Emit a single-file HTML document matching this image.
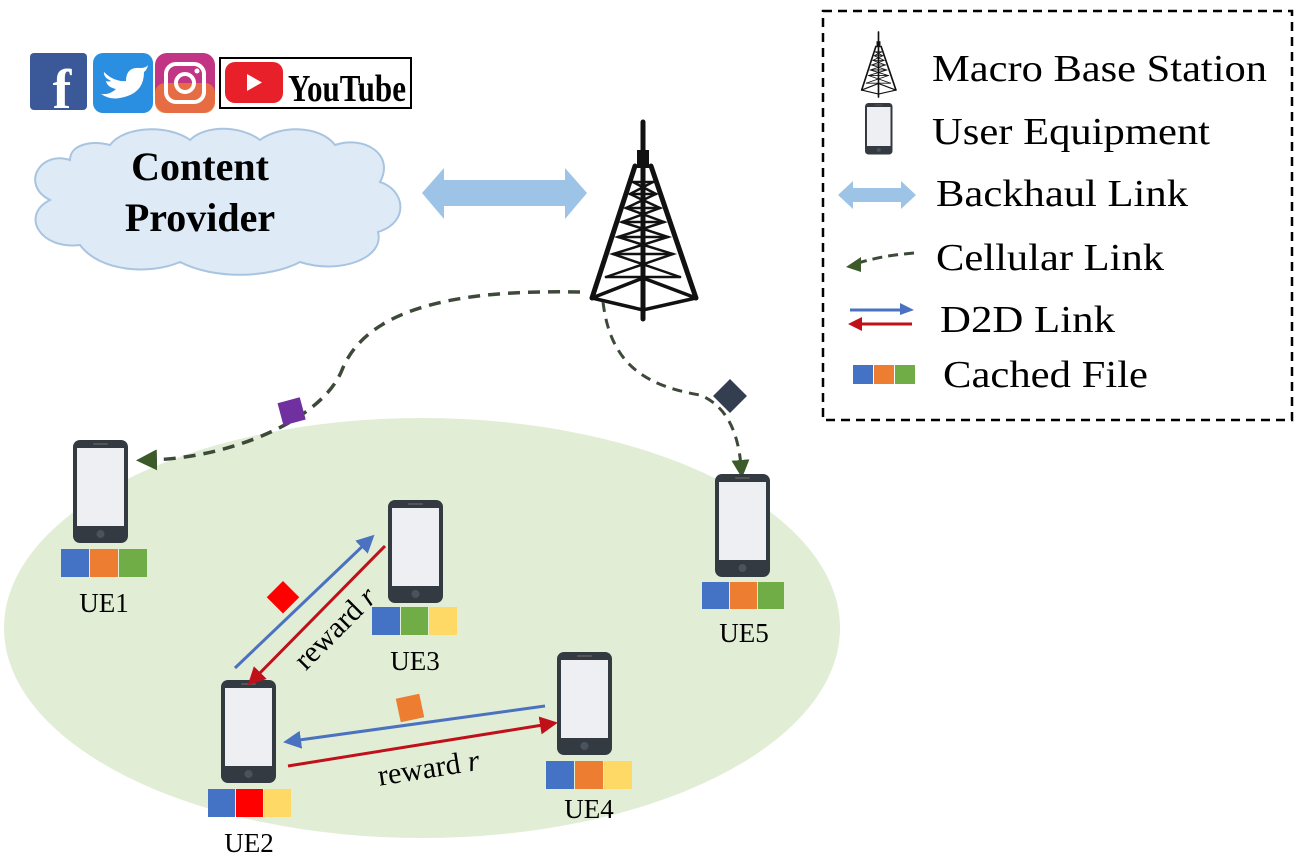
<!DOCTYPE html>
<html><head><meta charset="utf-8"><style>
html,body{margin:0;padding:0;background:#fff;}
svg{display:block;}
text{font-family:"Liberation Serif",serif;}
</style></head><body>
<svg width="1300" height="859" viewBox="0 0 1300 859" xmlns="http://www.w3.org/2000/svg">
<defs>
  <g id="phone">
    <rect x="0" y="0" width="55" height="103" rx="7" fill="#333a42"/>
    <rect x="4" y="8" width="47" height="78" fill="#eeeff2"/>
    <rect x="20" y="3" width="15" height="2" rx="1" fill="#555"/>
    <circle cx="27.5" cy="94" r="4" fill="#4a525b"/>
  </g>
  <marker id="ag" markerWidth="6" markerHeight="6" refX="2" refY="3" orient="auto" markerUnits="strokeWidth">
    <path d="M0,0 L6,3 L0,6 z" fill="#3d5a2a"/>
  </marker>
  <marker id="ab" markerWidth="6" markerHeight="6" refX="3" refY="3" orient="auto" markerUnits="strokeWidth">
    <path d="M0,0 L6,3 L0,6 z" fill="#4a72c0"/>
  </marker>
  <marker id="ar" markerWidth="6" markerHeight="6" refX="3" refY="3" orient="auto" markerUnits="strokeWidth">
    <path d="M0,0 L6,3 L0,6 z" fill="#c0101a"/>
  </marker>
  <g id="tower" fill="none" stroke="#111" stroke-linecap="round">
    <line x1="53" y1="0" x2="53" y2="30" stroke-width="5"/>
    <rect x="47" y="28" width="12" height="18" fill="#111" stroke="none"/>
    <path d="M45,44 L2,176 M61,44 L106,176" stroke-width="5"/>
    <path d="M53,44 L53,197" stroke-width="5"/>
    <path d="M2,176 L53,156 L106,176 M2,176 L53,188 L106,176" stroke-width="3.5"/>
    <path d="M43,60 L63,60 M40,72 L66,72 M36,86 L70,86 M32,100 L74,100 M28,115 L78,115 M23,132 L83,132 M16,155 L90,155" stroke-width="2.5"/>
    <path d="M43,60 L66,72 L36,86 L74,100 L28,115 L83,132 L16,155 M63,60 L40,72 L70,86 L32,100 L78,115 L23,132 L90,155" stroke-width="2.5"/>
  </g>
</defs>

<ellipse cx="422" cy="628" rx="418" ry="210" fill="#e2edd6"/>

<!-- social icons -->
<rect x="30" y="53" width="57" height="57" rx="4" fill="#3b5998"/>
<text x="62" y="108" font-family="Liberation Sans,sans-serif" font-weight="bold" font-size="56" fill="#fff" text-anchor="middle">f</text>
<rect x="93" y="53" width="60" height="60" rx="10" fill="#2a8fe0"/>
<path d="M104,72 q10,10 22,9 q0,-14 14,-13 q6,0 8,-3 q-1,5 -4,7 q0,22 -24,26 q-10,2 -19,-4 q9,1 15,-5 q-9,-2 -10,-8 q3,1 5,0 q-8,-4 -7,-9z" fill="#fff"/>
<rect x="155" y="53" width="60" height="60" rx="12" fill="#c13584"/>
<rect x="155" y="83" width="60" height="30" rx="10" fill="#f58529" opacity="0.7"/>
<rect x="166" y="64" width="38" height="38" rx="10" fill="none" stroke="#fff" stroke-width="4"/>
<circle cx="185" cy="83" r="9" fill="none" stroke="#fff" stroke-width="4"/>
<circle cx="197" cy="71" r="2.5" fill="#fff"/>
<rect x="220" y="58" width="191" height="50" fill="#fff" stroke="#000" stroke-width="2"/>
<rect x="225" y="62" width="58" height="41" rx="10" fill="#e8202a"/>
<path d="M247,74 L262,82.5 L247,91 z" fill="#fff"/>
<text x="288" y="101" font-family="Liberation Sans,sans-serif" font-weight="bold" font-size="38" fill="#000" textLength="118" lengthAdjust="spacingAndGlyphs">YouTube</text>

<!-- cloud -->
<path d="M70,160 C40,150 20,185 50,200 C20,215 40,250 80,245 C100,272 150,275 180,262 C215,280 270,278 300,262 C340,275 385,258 378,232 C410,222 405,190 380,182 C395,155 365,135 335,145 C320,125 280,125 260,140 C240,125 205,125 190,140 C170,125 125,125 110,145 C90,140 70,145 70,160 z" fill="#deebf7" stroke="#a9c4e0" stroke-width="2"/>
<text x="200" y="180" font-size="40" font-weight="bold" text-anchor="middle">Content</text>
<text x="200" y="231" font-size="40" font-weight="bold" text-anchor="middle">Provider</text>

<path d="M422,193 L444,168 L444,180 L565,180 L565,168 L587,193 L565,219 L565,206 L444,206 L444,219 z" fill="#9dc3e6"/>

<use href="#tower" x="590" y="122"/>

<!-- cellular links -->
<path d="M580,292 C480,290 370,300 342,370 C322,420 230,458 150,460" fill="none" stroke="#3d4a3a" stroke-width="3.5" stroke-dasharray="12,8" marker-end="url(#ag)"/>
<path d="M603,302 C610,360 640,385 700,395 C725,405 738,430 741,466" fill="none" stroke="#3d4a3a" stroke-width="3" stroke-dasharray="10,7" marker-end="url(#ag)"/>
<rect x="280" y="400" width="23" height="23" fill="#7030a0" transform="rotate(-15 291 411)"/>
<rect x="718" y="384" width="24" height="24" fill="#333f50" transform="rotate(45 730 396)"/>

<use href="#phone" x="73" y="440"/>
<use href="#phone" x="388" y="500"/>
<use href="#phone" x="221" y="680"/>
<use href="#phone" x="557" y="652"/>
<use href="#phone" x="715" y="474"/>

<g>
<rect x="61" y="549" width="28" height="28" fill="#4472c4"/><rect x="90" y="549" width="28" height="28" fill="#ed7d31"/><rect x="119" y="549" width="28" height="28" fill="#70ad47"/>
<rect x="372" y="607" width="28" height="28" fill="#4472c4"/><rect x="401" y="607" width="27" height="28" fill="#70ad47"/><rect x="429" y="607" width="28" height="28" fill="#ffd966"/>
<rect x="208" y="789" width="27" height="28" fill="#4472c4"/><rect x="236" y="789" width="27" height="28" fill="#ff0000"/><rect x="264" y="789" width="27" height="28" fill="#ffd966"/>
<rect x="546" y="761" width="28" height="28" fill="#4472c4"/><rect x="575" y="761" width="28" height="28" fill="#ed7d31"/><rect x="604" y="761" width="28" height="28" fill="#ffd966"/>
<rect x="702" y="582" width="27" height="27" fill="#4472c4"/><rect x="730" y="582" width="27" height="27" fill="#ed7d31"/><rect x="758" y="582" width="26" height="27" fill="#70ad47"/>
</g>

<g font-size="27" text-anchor="middle">
<text x="104" y="612">UE1</text>
<text x="415" y="670">UE3</text>
<text x="249" y="852">UE2</text>
<text x="589" y="818">UE4</text>
<text x="744" y="642">UE5</text>
</g>

<line x1="235" y1="668" x2="368" y2="541" stroke="#4a72c0" stroke-width="3" marker-end="url(#ab)"/>
<line x1="385" y1="546" x2="254" y2="679" stroke="#c0101a" stroke-width="3" marker-end="url(#ar)"/>
<line x1="545" y1="706" x2="292" y2="741" stroke="#4a72c0" stroke-width="3" marker-end="url(#ab)"/>
<line x1="288" y1="766" x2="549" y2="724" stroke="#c0101a" stroke-width="3" marker-end="url(#ar)"/>
<rect x="271" y="586" width="23" height="23" fill="#ff0000" transform="rotate(45 283 598)"/>
<rect x="398" y="696" width="24" height="24" fill="#ed7d31" transform="rotate(-12 410 708)"/>
<text x="0" y="0" font-size="30" text-anchor="middle" transform="translate(325 618) rotate(-45) translate(0 24)">reward <tspan font-style="italic">r</tspan></text>
<text x="0" y="0" font-size="30" text-anchor="middle" transform="translate(426 752) rotate(-9) translate(0 26)">reward <tspan font-style="italic">r</tspan></text>

<!-- legend -->
<rect x="823" y="11" width="469" height="409" fill="#fff" stroke="#000" stroke-width="2.5" stroke-dasharray="9,6"/>
<use href="#tower" transform="translate(861 32) scale(0.33)"/>
<g transform="translate(865 103) scale(0.5)"><use href="#phone"/></g>
<path d="M838,195 L853,181 L853,188 L901,188 L901,181 L916,195 L901,209 L901,202 L853,202 L853,209 z" fill="#9dc3e6"/>
<path d="M914,253 C890,255 875,258 858,263" fill="none" stroke="#3d4a3a" stroke-width="3" stroke-dasharray="10,6"/>
<path d="M846,267 L861,257 L861,272 z" fill="#3d5a2a"/>
<line x1="850" y1="310" x2="902" y2="310" stroke="#4a72c0" stroke-width="3"/><path d="M900,303 L914,310 L900,315 z" fill="#4a72c0"/>
<line x1="860" y1="324" x2="912" y2="324" stroke="#c0101a" stroke-width="3"/><path d="M848,324 L862,317 L862,331 z" fill="#c0101a"/>
<rect x="853" y="365" width="20" height="19" fill="#4472c4"/><rect x="874" y="365" width="20" height="19" fill="#ed7d31"/><rect x="895" y="365" width="20" height="19" fill="#70ad47"/>
<g font-size="38">
<text x="932" y="81" textLength="335" lengthAdjust="spacingAndGlyphs">Macro Base Station</text>
<text x="932" y="144" textLength="278" lengthAdjust="spacingAndGlyphs">User Equipment</text>
<text x="936" y="206" textLength="252" lengthAdjust="spacingAndGlyphs">Backhaul Link</text>
<text x="936" y="270" textLength="228" lengthAdjust="spacingAndGlyphs">Cellular Link</text>
<text x="940" y="332" textLength="175" lengthAdjust="spacingAndGlyphs">D2D Link</text>
<text x="943" y="387" textLength="205" lengthAdjust="spacingAndGlyphs">Cached File</text>
</g>
</svg>
</body></html>
